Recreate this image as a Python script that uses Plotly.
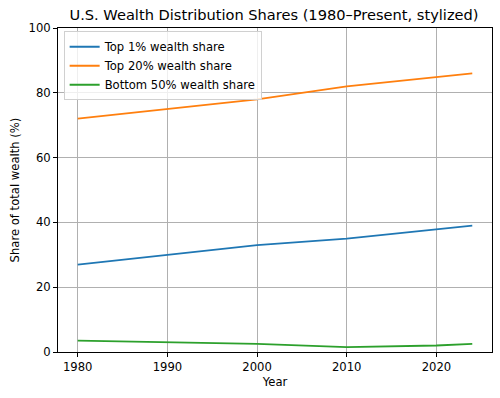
import plotly.graph_objects as go

years = [1980, 1990, 2000, 2010, 2020, 2024]
top1 = [27, 30, 33, 35, 38, 39]
top20 = [72, 75, 78, 82, 85, 86]
bottom50 = [3.5, 3.0, 2.5, 1.5, 2.0, 2.5]

series_names = ["Top 1% wealth share", "Top 20% wealth share", "Bottom 50% wealth share"]
series_values = [top1, top20, bottom50]
colors = ["#1f77b4", "#ff7f0e", "#2ca02c"]

fig = go.Figure()
for name, vals, c in zip(series_names, series_values, colors):
    fig.add_trace(go.Scatter(x=years, y=vals, mode="lines", name=name,
                             line=dict(color=c, width=1.8)))

axis_common = dict(
    showgrid=True, gridcolor="#b0b0b0", gridwidth=0.8,
    showline=True, linecolor="black", linewidth=1, mirror=True,
    ticks="outside", ticklen=4, tickcolor="black", tickwidth=1,
    zeroline=False, automargin=False,
    tickfont=dict(family="DejaVu Sans", size=11.6, color="black"),
)

fig.update_layout(
    width=500, height=398,
    margin=dict(l=58, r=8, t=28, b=46, autoexpand=False),
    paper_bgcolor="white", plot_bgcolor="white",
    font=dict(family="DejaVu Sans", color="black"),
    title=dict(text="U.S. Wealth Distribution Shares (1980–Present, stylized)",
               x=0.548, xanchor="center", y=0.962, yanchor="middle",
               font=dict(size=14.6, color="black")),
    xaxis=dict(range=[1977.8, 2026.2], tickvals=[1980, 1990, 2000, 2010, 2020],
               title=dict(text="Year", font=dict(size=11.6), standoff=4), **axis_common),
    yaxis=dict(range=[0, 100], tickvals=[0, 20, 40, 60, 80, 100],
               title=dict(text="Share of total wealth (%)", font=dict(size=11.6), standoff=6),
               **axis_common),
    legend=dict(x=0.013, y=0.99, xanchor="left", yanchor="top",
                bgcolor="rgba(255,255,255,0.8)", bordercolor="#d0d0d0", borderwidth=1,
                font=dict(size=11.6, color="black"), itemwidth=30,
                tracegroupgap=0),
    showlegend=True,
)

fig.write_html("out.html", config={"displayModeBar": False},
               post_script="document.body.style.margin='0';document.body.style.padding='0';")
